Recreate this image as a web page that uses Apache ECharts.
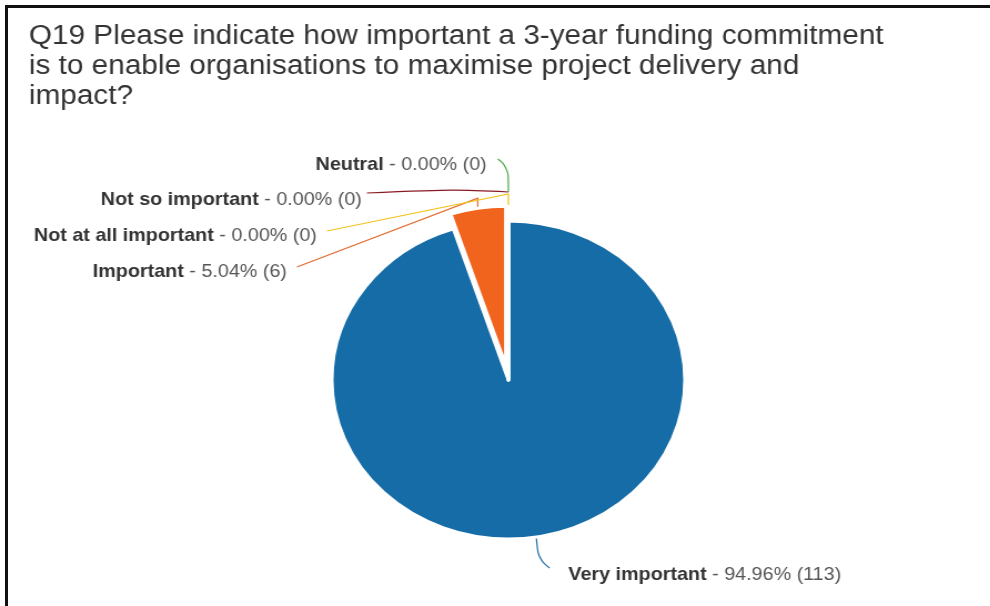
<!DOCTYPE html>
<html>
<head>
<meta charset="utf-8">
<title>Q19 funding commitment</title>
<script src="https://cdn.jsdelivr.net/npm/echarts@6/dist/echarts.min.js"></script>
<style>
  html, body { margin: 0; padding: 0; background: #fff; width: 990px; height: 606px; overflow: hidden; }
  #frame { position: absolute; left: 5px; top: 5px; width: 985px; height: 601px;
           border-left: 3px solid #111; border-top: 3px solid #111; box-sizing: border-box; }
  /* chart is laid out in a narrower box and widened horizontally */
  #chart { position: absolute; left: 0; top: 0; width: 892px; height: 606px;
           transform: scaleX(1.11); transform-origin: 0 0; }
</style>
</head>
<body>
<div id="frame"></div>
<div id="chart"></div>
<script>
// Survey answers, clockwise from 12 o'clock
const categories = ['Very important', 'Important', 'Not at all important', 'Not so important', 'Neutral'];
const responses = [113, 6, 0, 0, 0];
const explodedSlices = ['Important'];

const titleText = 'Q19 Please indicate how important a 3-year funding commitment\n' +
  'is to enable organisations to maximise project delivery and\nimpact?';

const palette = ['#156ca6', '#f0641e', '#f2c21b', '#8a1b25', '#4fa84a'];
const lineColors = ['#1f6fa8', '#e2692c', '#f2c21b', '#8a1b25', '#4fa84a'];
const FONT = '"Liberation Sans", Arial, sans-serif';
const NONE = 'rgba(0,0,0,0)';

const total = responses.reduce((a, b) => a + b, 0);
const CX = 458, CY = 380, R = 159, OFFSET = 15;

// mid angle (radians, clockwise from top) of each slice
function midAngle(i) {
  let before = 0;
  for (let k = 0; k < i; k++) before += responses[k];
  return 2 * Math.PI * (before + responses[i] / 2) / total;
}
const isExploded = i => explodedSlices.indexOf(categories[i]) >= 0;

// pulled-out slices share one offset direction (there is only one here)
const exIdx = categories.findIndex((c, i) => isExploded(i));
const exA = midAngle(exIdx);
const EX_CENTER = [CX + OFFSET * Math.sin(exA), CY - OFFSET * Math.cos(exA)];

const chart = echarts.init(document.getElementById('chart'), null, { renderer: 'canvas' });

const basePie = {
  type: 'pie',
  radius: R,
  startAngle: 90,
  clockwise: true,
  avoidLabelOverlap: false,
  emphasis: { disabled: true },
  silent: true
};

chart.setOption({
  animation: false,
  backgroundColor: 'transparent',
  title: {
    text: titleText,
    left: 21,
    top: 17,
    textStyle: { fontFamily: FONT, fontSize: 26.8, fontWeight: 'normal', color: '#333', lineHeight: 30 }
  },
  series: [
    Object.assign({}, basePie, {
      name: 'responses',
      center: [CX, CY],
      itemStyle: { borderColor: '#fff', borderWidth: 3 },
      label: {
        show: true,
        position: 'outside',
        fontFamily: FONT,
        formatter: p => '{n|' + p.name + '}{v| - ' + (p.value / total * 100).toFixed(2) + '% (' + p.value + ')}',
        rich: {
          n: { fontFamily: FONT, fontSize: 17.8, fontWeight: 'bold', color: '#333' },
          v: { fontFamily: FONT, fontSize: 17.8, color: '#555' }
        }
      },
      labelLine: { show: true, length: 10, length2: 10, lineStyle: { width: 1.2 } },
      labelLayout: function (params) {
        const i = params.dataIndex;
        const a = midAngle(i);
        if (i === 0) {
          // label below the pie, right of the slice's bottom mid point
          const ex = CX + R * Math.sin(a), ey = CY - R * Math.cos(a);
          return {
            x: ex + 29, y: ey + 38, align: 'left', verticalAlign: 'middle',
            labelLinePoints: [[ex, ey], [ex + 2, ey + 22], [ex + 12, ey + 31]]
          };
        }
        // small slices at the top: labels stacked to the upper left
        const ax = CX + (R + 16) * Math.sin(a), ay = CY - (R + 16) * Math.cos(a);
        const top = CY - R;
        const rows = {
          4: { right: CX - 19.5, y: top - 56 },
          3: { right: CX - 132, y: top - 21 },
          2: { right: CX - 172.5, y: top + 15 },
          1: { right: CX - 199.5, y: top + 51 }
        };
        const row = rows[i];
        let pts;
        if (i === 4) {
          pts = [[row.right + 10, row.y - 6], [ax, row.y + 2], [ax, ay - 13]];
        } else if (i === 3) {
          pts = [[row.right + 4.5, row.y - 7], [ax - 50, ay - 15.5], [ax, ay - 13]];
        } else if (i === 2) {
          pts = [[row.right + 9, row.y - 5], [ax, ay - 11], [ax, ay]];
        } else {
          pts = [[row.right + 9, row.y - 5], [ax, ay - 9], [ax, ay]];
        }
        return { x: row.right, y: row.y, align: 'right', verticalAlign: 'middle', labelLinePoints: pts };
      },
      data: categories.map((name, i) => ({
        name: name,
        value: responses[i],
        itemStyle: isExploded(i) ? { color: NONE, borderWidth: 0 } : { color: palette[i] },
        labelLine: {
          smooth: i === 4 ? 0.5 : (i === 0 ? 0.4 : (i === 3 ? 0.3 : 0)),
          lineStyle: { color: lineColors[i] }
        }
      }))
    }),
    // the pulled-out slice, drawn from a centre shifted along its mid angle
    Object.assign({}, basePie, {
      name: 'pulled',
      center: EX_CENTER,
      itemStyle: { borderColor: '#fff', borderWidth: 3 },
      label: { show: false },
      labelLine: { show: false },
      data: categories.map((name, i) => ({
        name: name,
        value: responses[i],
        itemStyle: isExploded(i) ? { color: palette[i] } : { color: NONE, borderWidth: 0 }
      }))
    })
  ]
});
</script>
</body>
</html>
